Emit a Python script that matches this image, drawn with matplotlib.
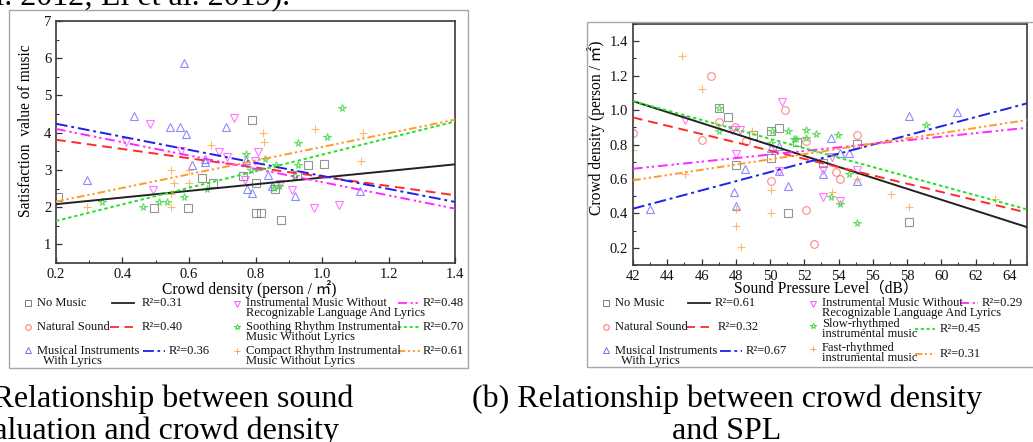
import matplotlib
matplotlib.use("Agg")
import matplotlib.pyplot as plt
from matplotlib.patches import Rectangle
from matplotlib.lines import Line2D
from matplotlib.ticker import MultipleLocator

plt.rcParams['font.family'] = ['Liberation Serif', 'Noto Sans CJK SC', 'DejaVu Sans']

# ---------------- data (a): satisfaction vs crowd density ----------------
a_nomusic_x = [0.207, 0.494, 0.596, 0.64, 0.672, 0.762, 0.789, 0.80, 0.80, 0.816, 0.858, 0.877, 0.926, 0.958, 1.006]
a_nomusic_y = [2.28, 1.98, 1.98, 2.79, 2.65, 2.83, 4.34, 2.65, 1.83, 1.83, 2.49, 1.65, 2.86, 3.14, 3.16]
a_natural_x = []
a_natural_y = []
a_lyrics_x = [0.292, 0.434, 0.544, 0.572, 0.586, 0.591, 0.61, 0.647, 0.647, 0.71, 0.77, 0.775, 0.79, 0.838, 0.851, 0.92, 1.113]
a_lyrics_y = [2.72, 4.44, 4.14, 4.14, 5.88, 3.97, 3.14, 3.28, 3.2, 4.14, 3.26, 2.5, 2.37, 2.87, 2.58, 2.29, 2.44]
a_nolang_x = [0.41, 0.484, 0.492, 0.575, 0.69, 0.714, 0.734, 0.769, 0.797, 0.809, 0.873, 0.909, 0.976, 1.05]
a_nolang_y = [3.74, 4.24, 2.47, 3.52, 3.49, 3.34, 4.4, 2.72, 3.23, 3.49, 2.63, 2.47, 1.99, 2.07]
a_soothing_x = [0.339, 0.463, 0.51, 0.535, 0.586, 0.653, 0.772, 0.785, 0.83, 0.857, 0.863, 0.871, 0.92, 0.929, 0.929, 1.014, 1.061]
a_soothing_y = [2.13, 2.01, 2.13, 2.13, 2.28, 2.5, 3.42, 2.99, 3.28, 2.51, 3.13, 2.58, 2.85, 3.12, 3.71, 3.88, 4.66]
a_compact_x = [0.292, 0.545, 0.545, 0.545, 0.556, 0.6, 0.601, 0.667, 0.823, 0.826, 0.979, 1.116, 1.122]
a_compact_y = [2.0, 2.0, 2.34, 2.99, 2.66, 2.66, 2.99, 3.66, 3.99, 3.75, 4.09, 3.25, 4.0]

a_fit_x = [0.2, 1.4]
a_fit_y = [[2.08, 3.15], [3.81, 2.32], [4.24, 2.14], [4.10, 1.96], [1.63, 4.30], [2.15, 4.35]]
a_r2 = [0.31, 0.40, 0.36, 0.48, 0.70, 0.61]
a_labels = ["No Music", "Natural Sound", "Musical Instruments\n  With Lyrics",
            "Instrumental Music Without\nRecognizable Language And Lyrics",
            "Soothing Rhythm Instrumental\nMusic Without Lyrics",
            "Compact Rhythm Instrumental\nMusic Without Lyrics"]

# ---------------- data (b): crowd density vs SPL ----------------
b_nomusic_x = [47.04, 47.53, 48.04, 49.03, 50.05, 50.05, 50.55, 51.06, 51.55, 53.07, 55.1, 58.1]
b_nomusic_y = [1.01, 0.957, 0.682, 0.855, 0.88, 0.719, 0.893, 0.40, 0.812, 0.69, 0.804, 0.352]
b_natural_x = [42.0, 46.05, 46.53, 47.04, 47.96, 48.6, 50.03, 50.85, 52.08, 52.08, 52.57, 53.86, 54.08, 55.1]
b_natural_y = [0.868, 0.829, 1.20, 0.93, 0.899, 0.823, 0.59, 1.0, 0.822, 0.42, 0.222, 0.641, 0.602, 0.855]
b_lyrics_x = [43.02, 47.9, 48.04, 48.55, 50.03, 50.54, 50.54, 51.05, 53.07, 53.57, 54.09, 54.58, 55.1, 58.09, 60.93]
b_lyrics_y = [0.423, 0.525, 0.441, 0.655, 0.781, 0.794, 0.647, 0.56, 0.631, 0.84, 0.752, 0.752, 0.589, 0.967, 0.986]
b_nolang_x = [45.01, 47.8, 48.0, 48.26, 50.53, 50.68, 53.07, 53.07, 53.6, 54.08, 55.1]
b_nolang_y = [0.942, 0.887, 0.744, 0.883, 0.648, 1.049, 0.65, 0.495, 0.729, 0.47, 0.65]
b_slow_x = [47.04, 47.04, 50.05, 50.1, 51.07, 51.4, 51.54, 52.07, 52.07, 52.68, 53.57, 53.98, 54.08, 54.59, 55.1, 59.1]
b_slow_y = [1.01, 0.88, 0.806, 0.88, 0.877, 0.833, 0.833, 0.882, 0.839, 0.862, 0.495, 0.857, 0.452, 0.631, 0.344, 0.911]
b_fast_x = [42.0, 44.86, 45.01, 46.03, 48.04, 48.04, 48.33, 48.94, 50.03, 50.03, 53.6, 55.1, 57.07, 58.09, 63.13]
b_fast_y = [0.77, 1.317, 0.63, 1.12, 0.423, 0.327, 0.204, 0.88, 0.538, 0.402, 0.525, 0.60, 0.515, 0.437, 0.482]

b_fit_x = [42, 65]
b_fit_y = [[1.052, 0.32], [0.957, 0.404], [0.427, 1.039], [0.659, 0.897], [1.052, 0.423], [0.592, 0.942]]
b_r2 = [0.61, 0.32, 0.67, 0.29, 0.45, 0.31]
b_labels = ["No Music", "Natural Sound", "Musical Instruments\n  With Lyrics",
            "Instrumental Music Without\nRecognizable Language And Lyrics",
            "Slow-rhythmed\ninstrumental music",
            "Fast-rhythmed\ninstrumental music"]

# styles shared by both panels
mk_colors = ['#7a7a7a', '#ff6a6a', '#6f6fff', '#ff55ff', '#3fd63f', '#ffa54a']
ln_colors = ['#222222', '#ff2a2a', '#1f1fee', '#ff28ff', '#28e028', '#ff9a2a']
markers = ['s', 'o', '^', 'v', '*', '+']
styles = ['-', (0, (5, 3)), (0, (6, 2, 1.5, 2)), (0, (5, 2, 1.2, 1.5, 1.2, 2)),
          (0, (1.8, 1.4)), (0, (4, 1.5, 1.2, 1.5, 1.2, 1.5))]

W, H = 1033, 442
fig = plt.figure(figsize=(W / 100, H / 100), dpi=100)


def px_rect(x0, y0, x1, y1):
    return [x0 / W, 1 - y1 / H, (x1 - x0) / W, (y1 - y0) / H]


def style_axes(ax):
    for s in ['top', 'right', 'bottom', 'left']:
        ax.spines[s].set_color('#3a3a3a')
        ax.spines[s].set_linewidth(1.2)
    ax.tick_params(which='both', direction='in', top=False, right=False,
                   labelsize=10.5, colors='#333333', labelcolor='#111111')
    ax.tick_params(which='major', length=4, width=0.9)
    ax.tick_params(which='minor', length=2.5, width=0.8)


def draw_series(ax, xs, ys, fit_x, fit_y):
    for i in range(6):
        if len(xs[i]):
            ax.plot(xs[i], ys[i], linestyle='none', marker=markers[i], markersize=5.5,
                    markerfacecolor='none', markeredgecolor=mk_colors[i],
                    markeredgewidth=0.8, alpha=0.8, zorder=2)
    for i in range(6):
        ax.plot(fit_x, fit_y[i], color=ln_colors[i], linestyle=styles[i], lw=1.4, zorder=3)


# ---- panel (a)
ax1 = fig.add_axes(px_rect(56, 21, 455, 263))
draw_series(ax1,
            [a_nomusic_x, a_natural_x, a_lyrics_x, a_nolang_x, a_soothing_x, a_compact_x],
            [a_nomusic_y, a_natural_y, a_lyrics_y, a_nolang_y, a_soothing_y, a_compact_y],
            a_fit_x, a_fit_y)
ax1.set_xlim(0.2, 1.4)
ax1.set_ylim(0.5, 7)
ax1.xaxis.set_major_locator(MultipleLocator(0.2))
ax1.xaxis.set_minor_locator(MultipleLocator(0.1))
ax1.yaxis.set_major_locator(MultipleLocator(1))
ax1.yaxis.set_minor_locator(MultipleLocator(0.5))
ax1.xaxis.set_major_formatter(lambda v, p: f"{v:.1f}")
style_axes(ax1)
ax1.set_xlabel("Crowd density (person / ㎡)", fontsize=11.2)
ax1.set_ylabel("Satisfaction  value of music", fontsize=11.2)
ax1.xaxis.set_label_coords(0.484, -0.07)
ax1.yaxis.set_label_coords(-0.055, 0.545)

# ---- panel (b)
ax2 = fig.add_axes(px_rect(633, 24, 1027, 265))
draw_series(ax2,
            [b_nomusic_x, b_natural_x, b_lyrics_x, b_nolang_x, b_slow_x, b_fast_x],
            [b_nomusic_y, b_natural_y, b_lyrics_y, b_nolang_y, b_slow_y, b_fast_y],
            b_fit_x, b_fit_y)
ax2.set_xlim(42, 65)
ax2.set_ylim(0.1, 1.5)
ax2.xaxis.set_major_locator(MultipleLocator(2))
ax2.xaxis.set_minor_locator(MultipleLocator(1))
ax2.yaxis.set_major_locator(MultipleLocator(0.2))
ax2.yaxis.set_minor_locator(MultipleLocator(0.1))
ax2.yaxis.set_major_formatter(lambda v, p: f"{v:.1f}")
style_axes(ax2)
ax2.set_xlabel("Sound Pressure Level（dB）", fontsize=11.2)
ax2.set_ylabel("Crowd density (person / ㎡)", fontsize=11.2)
ax2.xaxis.set_label_coords(0.49, -0.066)
ax2.yaxis.set_label_coords(-0.07, 0.57)

# ---- overlay in pixel coordinates: frames, legends, captions
lay = fig.add_axes([0, 0, 1, 1], facecolor='none')
lay.set_xlim(0, W)
lay.set_ylim(H, 0)
lay.axis('off')

lay.add_patch(Rectangle((9, 10), 459, 358, fill=False, ec='#a8a8a8', lw=1.0))
lay.add_patch(Rectangle((587, 22), 460, 345, fill=False, ec='#a8a8a8', lw=1.0, clip_on=False))

leg_fs = 9.0


def legend(labels, r2, mk_xy, txt_y, line_xy, r2_x):
    for i in range(6):
        mx, my = mk_xy[i]
        lay.plot([mx], [my], marker=markers[i], markersize=4, linestyle='none',
                 markerfacecolor='none', markeredgecolor=mk_colors[i], markeredgewidth=0.7)
        lay.text(mx + 9, txt_y[i], labels[i], fontsize=leg_fs, va='center', ha='left',
                 linespacing=0.85, color='#111111')
        x0, x1, ly = line_xy[i]
        lay.add_line(Line2D([x0, x1], [ly, ly], color=ln_colors[i], linestyle=styles[i], lw=1.3))
        lay.text(r2_x[i], ly, f"R²={r2[i]:.2f}", fontsize=leg_fs, va='center', ha='left',
                 color='#111111', clip_on=False)


legend(a_labels, a_r2,
       [(28, 303), (28, 327), (28, 350), (237, 304), (237, 327), (237, 351)],
       [303, 327, 356, 308, 332, 356],
       [(112, 134, 303), (110, 133, 327), (143, 165, 351),
        (398, 420, 303), (398, 420, 327), (398, 420, 351)],
       [142, 142, 169, 423, 423, 423])

legend(b_labels, b_r2,
       [(606, 303), (606, 327), (606, 350), (813, 304), (813, 326), (813, 349)],
       [303, 327, 356, 308, 329, 353],
       [(688, 710, 303), (686, 709, 327), (720, 742, 351),
        (960, 978, 303), (915, 935, 329), (915, 935, 354)],
       [715, 718, 746, 982, 940, 940])

# captions and the cut-off text line above the figure
cap_fs = 23
lay.text(290, 4, "et al. 2012; Li et al. 2019).", fontsize=cap_fs, ha='right', va='baseline', clip_on=False)
lay.text(151, 407, "(a) Relationship between sound", fontsize=cap_fs, ha='center', va='baseline', clip_on=False)
lay.text(151, 439, "evaluation and crowd density", fontsize=cap_fs, ha='center', va='baseline', clip_on=False)
lay.text(727, 407, "(b) Relationship between crowd density", fontsize=cap_fs, ha='center', va='baseline', clip_on=False)
lay.text(727, 439, "and SPL", fontsize=cap_fs, ha='center', va='baseline', clip_on=False)

fig.savefig("out.png", dpi=100)
